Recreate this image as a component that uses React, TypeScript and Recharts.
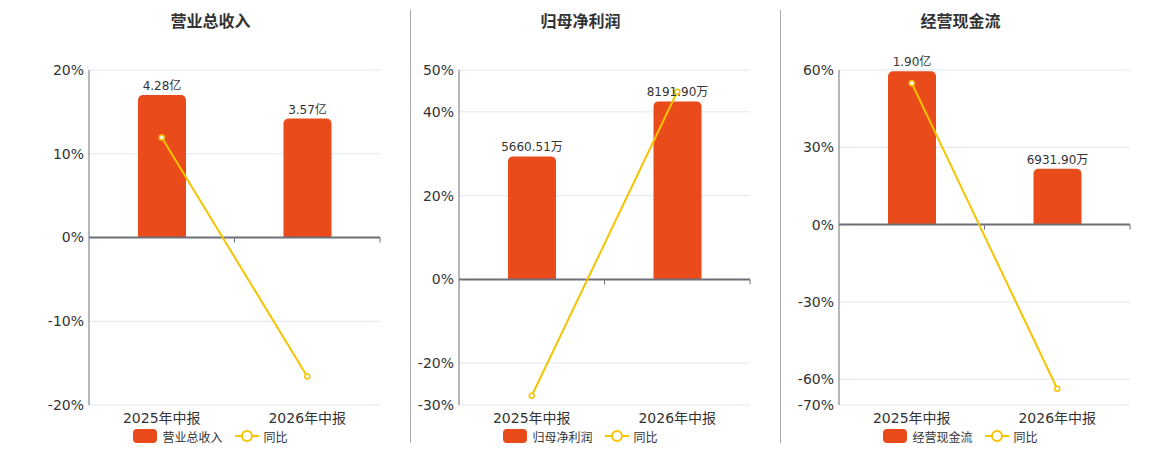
import { Bar, CartesianGrid, ComposedChart, LabelList, Line, ReferenceLine, XAxis, YAxis } from "recharts";

const categories = ["2025年中报", "2026年中报"];

// values in 万
const revenue = [42800, 35700];
const revenueYoy = [11.95, -16.6];

const profit = [5660.51, 8191.9];
const profitYoy = [-27.8, 44.8];

const cashflow = [19000, 6931.9];
const cashflowYoy = [54.9, -63.7];

const BAR_COLOR = "#E94B1B";
const LINE_COLOR = "#F5C400";
const AXIS_COLOR = "#6E7079";

const panels = [
  {
    title: "营业总收入",
    values: revenue,
    yoy: revenueYoy,
    pctDomain: [-20, 20],
    pctTicks: [-20, -10, 0, 10, 20],
    valDomain: [-50300, 50300],
    left: 31,
  },
  {
    title: "归母净利润",
    values: profit,
    yoy: profitYoy,
    pctDomain: [-30, 50],
    pctTicks: [-30, -20, 0, 20, 40, 50],
    valDomain: [-5782, 9636],
    left: 401,
  },
  {
    title: "经营现金流",
    values: cashflow,
    yoy: cashflowYoy,
    pctDomain: [-70, 60],
    pctTicks: [-70, -60, -30, 0, 30, 60],
    valDomain: [-22353, 19160],
    left: 781,
  },
];

function formatMoney(v: number) {
  if (Math.abs(v) >= 10000) return (v / 10000).toFixed(2) + "亿";
  return v.toFixed(2) + "万";
}

function ZeroAxis(props: any) {
  const { x1, y1, x2 } = props;
  const n = categories.length;
  const ticks = [];
  for (let i = 1; i <= n; i++) {
    const x = x1 + ((x2 - x1) * i) / n;
    ticks.push(<line key={i} x1={x} x2={x} y1={y1} y2={y1 + 5} stroke={AXIS_COLOR} strokeWidth={1} />);
  }
  return (
    <g>
      <line x1={x1} x2={x2} y1={y1} y2={y1} stroke={AXIS_COLOR} strokeWidth={2} />
      {ticks}
    </g>
  );
}

function LegendRow({ name }: { name: string }) {
  return (
    <div
      style={{
        position: "absolute",
        top: 420,
        left: 0,
        width: "100%",
        height: 16,
        display: "flex",
        justifyContent: "center",
        alignItems: "center",
        fontSize: 12,
        color: "#333",
      }}
    >
      <span style={{ width: 24, height: 14, borderRadius: 4, background: BAR_COLOR, display: "inline-block" }} />
      <span style={{ marginLeft: 5 }}>{name}</span>
      <svg width={24} height={14} style={{ marginLeft: 12 }}>
        <line x1={0} x2={24} y1={7} y2={7} stroke={LINE_COLOR} strokeWidth={2} />
        <circle cx={12} cy={7} r={5} fill="#fff" stroke={LINE_COLOR} strokeWidth={2} />
      </svg>
      <span style={{ marginLeft: 5 }}>同比</span>
    </div>
  );
}

function Panel({ p }: { p: (typeof panels)[number] }) {
  const data = categories.map((c, i) => ({ name: c, value: p.values[i], yoy: p.yoy[i] }));
  return (
    <div style={{ position: "absolute", left: p.left, top: 0, width: 343, height: 442 }}>
      <div
        style={{
          position: "absolute",
          top: 0,
          width: "100%",
          lineHeight: "28px",
          textAlign: "center",
          fontSize: 16,
          fontWeight: "bold",
          color: "#333",
        }}
      >
        {p.title}
      </div>
      <ComposedChart width={343} height={417} data={data} margin={{ top: 62, right: 2, bottom: 0, left: 0 }}>
        <CartesianGrid vertical={false} stroke="#E0E6F1" yAxisId="pct" />
        <XAxis
          dataKey="name"
          axisLine={false}
          tickLine={false}
          height={20}
          tick={{ fill: "#333", fontSize: 14 }}
          interval={0}
        />
        <YAxis
          yAxisId="pct"
          width={50}
          domain={p.pctDomain}
          ticks={p.pctTicks}
          interval={0}
          tickFormatter={(v) => `${v}%`}
          axisLine={{ stroke: AXIS_COLOR }}
          tickLine={false}
          tickSize={3}
          tickMargin={2}
          tick={{ fill: "#333", fontSize: 14 }}
          allowDataOverflow
        />
        <YAxis yAxisId="val" hide domain={p.valDomain} allowDataOverflow />
        <Bar yAxisId="val" dataKey="value" fill={BAR_COLOR} barSize={48} radius={[5, 5, 0, 0]} isAnimationActive={false}>
          <LabelList dataKey="value" position="top" formatter={(v: any) => formatMoney(Number(v))} fill="#333" fontSize={12} />
        </Bar>
        <ReferenceLine yAxisId="pct" y={0} shape={ZeroAxis} />
        <Line
          yAxisId="pct"
          dataKey="yoy"
          stroke={LINE_COLOR}
          strokeWidth={2}
          dot={{ r: 2.5, fill: "#fff", stroke: LINE_COLOR, strokeWidth: 1.5 }}
          activeDot={false}
          isAnimationActive={false}
        />
      </ComposedChart>
      <LegendRow name={p.title} />
    </div>
  );
}

export default function App() {
  return (
    <div
      style={{
        position: "relative",
        width: 1144,
        height: 442,
        fontFamily: '"DejaVu Sans", "Noto Sans CJK SC", sans-serif',
      }}
    >
      <div style={{ position: "absolute", left: 402, top: 2, width: 1, height: 433, background: "#aaa" }} />
      <div style={{ position: "absolute", left: 772, top: 2, width: 1, height: 433, background: "#aaa" }} />
      {panels.map((p) => (
        <Panel key={p.title} p={p} />
      ))}
    </div>
  );
}
